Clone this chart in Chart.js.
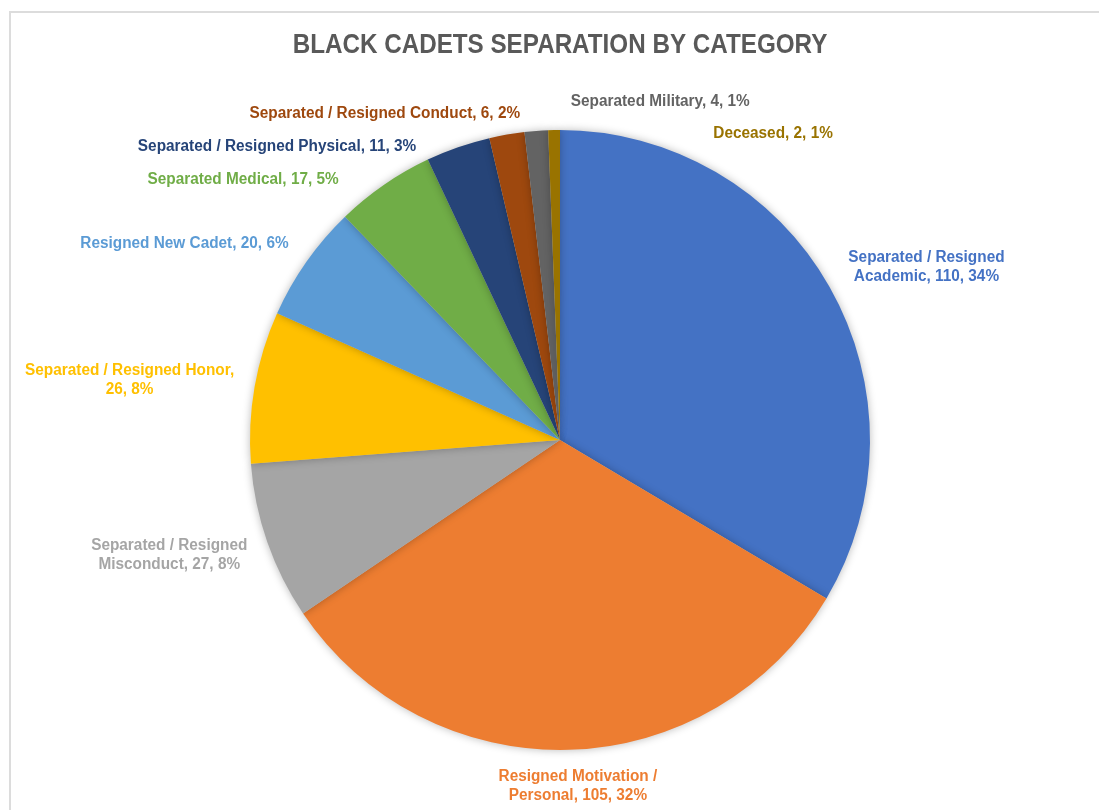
<!DOCTYPE html>
<html>
<head>
<meta charset="utf-8">
<title>Black Cadets Separation by Category</title>
<script src="https://cdn.jsdelivr.net/npm/chart.js@4.4.1/dist/chart.umd.min.js"></script>
<style>
  html, body { margin: 0; padding: 0; background: #fff; }
  #frame {
    position: absolute; left: 9px; top: 11px; width: 1100px; height: 810px;
    border-left: 2px solid #dcdcdc; border-top: 2px solid #dcdcdc;
  }
  #pie { position: absolute; left: 0; top: 0; }
</style>
</head>
<body>
<div id="frame"></div>
<canvas id="pie" width="1099" height="810"></canvas>
<script>
var chartTitle = 'BLACK CADETS SEPARATION BY CATEGORY';

var categories = [
    'Separated / Resigned Academic',
    'Resigned Motivation / Personal',
    'Separated / Resigned Misconduct',
    'Separated / Resigned Honor',
    'Resigned New Cadet',
    'Separated Medical',
    'Separated / Resigned Physical',
    'Separated / Resigned Conduct',
    'Separated Military',
    'Deceased'
];
var counts = [110, 105, 27, 26, 20, 17, 11, 6, 4, 2];

var sliceColors = ['#4472C4', '#ED7D31', '#A5A5A5', '#FFC000', '#5B9BD5',
                   '#70AD47', '#264478', '#9E480E', '#636363', '#997300'];

// how many words go on the first line of each label (0 = single line)
var wrapWords = [3, 3, 3, 4, 0, 0, 0, 0, 0, 0];
// label block centre, relative to the middle of each slice's outer edge
var labelOffsets = [[97, -20], [9, 36], [-98, 13], [-125, -7], [-122, -18],
                    [-141, -5], [-181, -1], [-122, -21], [124, -29], [219, 4]];

var total = counts.reduce(function(a, b){ return a + b; }, 0);

function labelLines(i){
    var pct = Math.round(counts[i] / total * 100);
    var text = categories[i] + ', ' + counts[i] + ', ' + pct + '%';
    if(!wrapWords[i]) return [text];
    var words = text.split(' ');
    return [words.slice(0, wrapWords[i]).join(' '), words.slice(wrapWords[i]).join(' ')];
}

// condensed look: Liberation Sans squeezed horizontally
function narrowText(ctx, str, x, y, squeeze){
    ctx.save();
    ctx.translate(x, y);
    ctx.scale(squeeze, 1);
    ctx.fillText(str, 0, 0);
    ctx.restore();
}

var pieShadow = {
    id: 'pieShadow',
    beforeDatasetsDraw: function(chart){
        var ctx = chart.ctx;
        ctx.save();
        ctx.shadowColor = 'rgba(0,0,0,0.28)';
        ctx.shadowBlur = 9;
    },
    afterDatasetsDraw: function(chart){
        chart.ctx.restore();
    }
};

var sliceLabels = {
    id: 'sliceLabels',
    afterDraw: function(chart){
        var ctx = chart.ctx;
        var area = chart.chartArea;
        ctx.save();
        ctx.textAlign = 'center';
        ctx.textBaseline = 'middle';

        ctx.fillStyle = '#595959';
        ctx.font = 'bold 28px "Liberation Sans", Arial, sans-serif';
        narrowText(ctx, chartTitle, (area.left + area.right) / 2, 45, 0.865);

        ctx.font = 'bold 16px "Liberation Sans", Arial, sans-serif';
        chart.getDatasetMeta(0).data.forEach(function(arc, i){
            var p = arc.getProps(['x', 'y', 'startAngle', 'endAngle', 'outerRadius'], true);
            var mid = (p.startAngle + p.endAngle) / 2;
            var cx = p.x + Math.cos(mid) * p.outerRadius + labelOffsets[i][0];
            var cy = p.y + Math.sin(mid) * p.outerRadius + labelOffsets[i][1];
            var lines = labelLines(i);
            ctx.fillStyle = sliceColors[i];
            lines.forEach(function(line, k){
                narrowText(ctx, line, cx, cy + (k - (lines.length - 1) / 2) * 19, 0.96);
            });
        });
        ctx.restore();
    }
};

var ctx = document.getElementById('pie').getContext('2d');
var pieChart = new Chart(ctx, {
    type: 'pie',
    data: {
        labels: categories,
        datasets: [{
            data: counts,
            backgroundColor: sliceColors,
            borderWidth: 0,
            hoverOffset: 0
        }]
    },
    options: {
        responsive: false,
        animation: false,
        events: [],
        layout: { padding: { left: 250, right: 229, top: 130, bottom: 60 } },
        plugins: {
            legend: { display: false },
            tooltip: { enabled: false },
            title: { display: false }
        }
    },
    plugins: [pieShadow, sliceLabels]
});
</script>
</body>
</html>
